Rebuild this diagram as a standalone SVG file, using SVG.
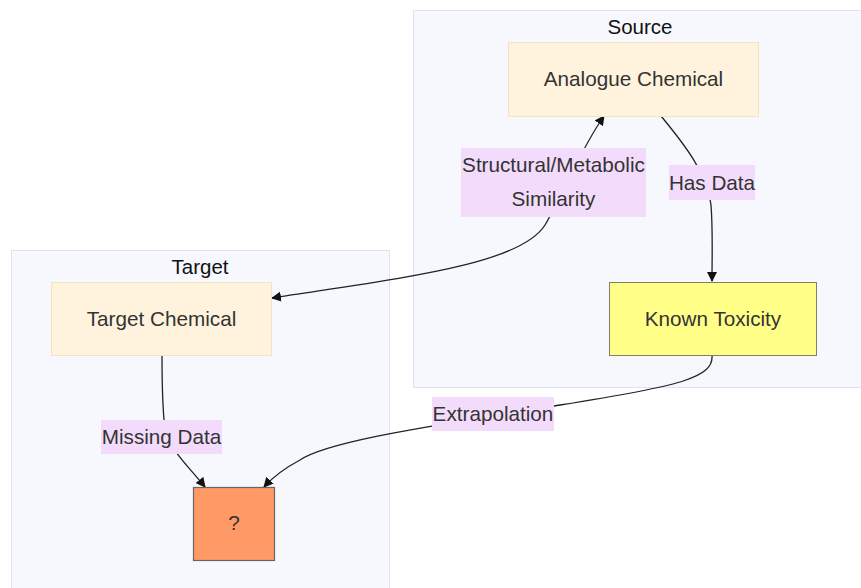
<svg xmlns="http://www.w3.org/2000/svg" width="861" height="588" viewBox="0 0 861 588">
  <style>
    .cluster { fill: #f7f8fd; stroke: #dbe3f5; stroke-width: 1; }
    .title { font-family: "Liberation Sans", Arial, sans-serif; font-size: 20.5px; fill: #111; text-anchor: middle; }
    .label { font-family: "Liberation Sans", Arial, sans-serif; font-size: 20.7px; fill: #333; text-anchor: middle; }
    .chem { fill: #fff3dd; stroke: #f3e3c3; stroke-width: 1; }
    .edge { fill: none; stroke: #222; stroke-width: 1.3; }
    .elabel { fill: #f3dcfb; }
  </style>
  <defs>
    <marker id="arrow" viewBox="0 0 10 10" refX="9" refY="5" markerWidth="10" markerHeight="10" markerUnits="userSpaceOnUse" orient="auto-start-reverse">
      <path d="M0,0 L10,5 L0,10 z" fill="#111"/>
    </marker>
  </defs>

  <rect width="861" height="588" fill="#ffffff"/>

  <!-- subgraphs -->
  <g id="cluster-source">
    <rect class="cluster" x="413.5" y="10.5" width="460" height="377"/>
    <text class="title" x="640" y="34">Source</text>
  </g>
  <g id="cluster-target">
    <rect class="cluster" x="11.5" y="250.5" width="378" height="350"/>
    <text class="title" x="200" y="274">Target</text>
  </g>

  <!-- connectors -->
  <g id="connectors">
    <path class="edge" d="M661,116 C685,145 708,175 711,205 C713,230 712,255 712,281" marker-end="url(#arrow)"/>
    <path class="edge" d="M604,116 C580,150 560,200 545,225 C520,265 400,278 272,298" marker-start="url(#arrow)" marker-end="url(#arrow)"/>
    <path class="edge" d="M162,355 C162,380 162,405 165,430 C170,450 190,468 205,487" marker-end="url(#arrow)"/>
    <path class="edge" d="M712,355 C714,378 680,386 560,405 C440,425 330,440 300,460 C285,468 272,478 264,487" marker-end="url(#arrow)"/>
  </g>

  <!-- edge labels -->
  <g id="label-similarity">
    <rect class="elabel" x="461" y="148" width="185" height="69"/>
    <text class="label" x="553.5" y="172">Structural/Metabolic</text>
    <text class="label" x="553.5" y="206">Similarity</text>
  </g>
  <g id="label-hasdata">
    <rect class="elabel" x="669" y="165" width="86" height="35"/>
    <text class="label" x="712" y="190">Has Data</text>
  </g>
  <g id="label-missing">
    <rect class="elabel" x="101" y="420" width="121" height="34"/>
    <text class="label" x="161.5" y="444">Missing Data</text>
  </g>
  <g id="label-extrapolation">
    <rect class="elabel" x="432" y="397" width="122" height="34"/>
    <text class="label" x="493" y="421">Extrapolation</text>
  </g>

  <!-- nodes -->
  <g id="node-analogue">
    <rect class="chem" x="508.5" y="42.5" width="250" height="74"/>
    <text class="label" x="633.5" y="86">Analogue Chemical</text>
  </g>
  <g id="node-known">
    <rect x="609.5" y="282.5" width="207" height="73" fill="#ffff88" stroke="#808066" stroke-width="1"/>
    <text class="label" x="713" y="326">Known Toxicity</text>
  </g>
  <g id="node-target">
    <rect class="chem" x="51.5" y="282.5" width="220" height="73"/>
    <text class="label" x="161.5" y="326">Target Chemical</text>
  </g>
  <g id="node-unknown">
    <rect x="193.5" y="487.5" width="81" height="73" fill="#ff9966" stroke="#666666" stroke-width="1.2"/>
    <text class="label" x="234" y="530">?</text>
  </g>
</svg>
